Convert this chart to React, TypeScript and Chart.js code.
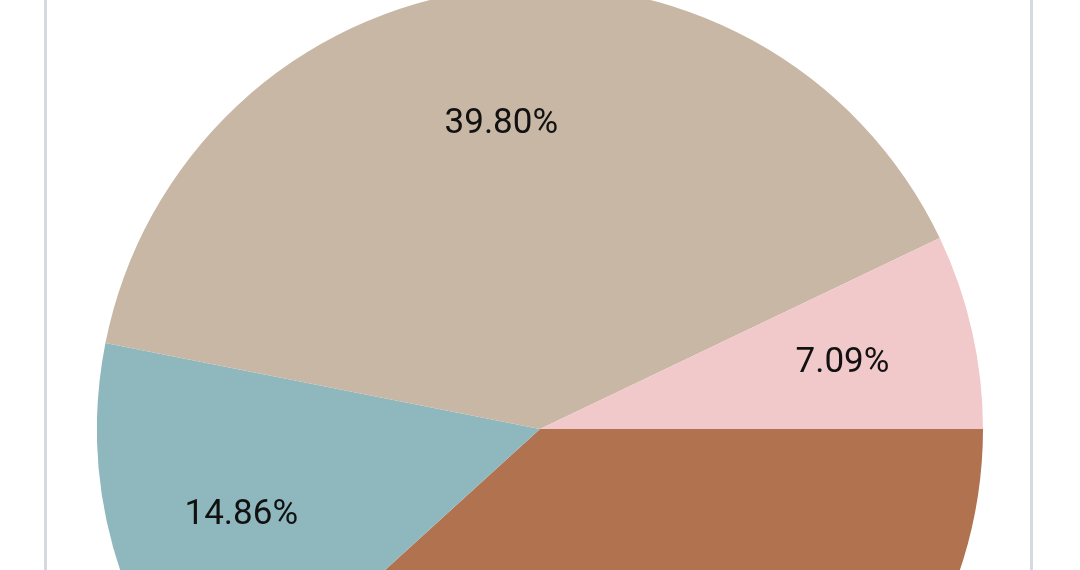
import React, { useEffect, useRef } from "react";
import { Chart, registerables } from "chart.js";

Chart.register(...registerables);

const categories = ["Category A", "Category B", "Category C", "Category D"];
const values = [38.25, 14.86, 39.8, 7.09];
const colors = ["#b1724f", "#8eb8be", "#c8b7a4", "#f2c9cb"];

const labelPlugin = {
  id: "pctLabels",
  afterDatasetsDraw(chart: any) {
    const ctx = chart.ctx;
    const meta = chart.getDatasetMeta(0);
    const data = chart.data.datasets[0].data as number[];
    const total = data.reduce((a, b) => a + b, 0);
    ctx.save();
    ctx.font = "35px Roboto";
    ctx.fillStyle = "#111111";
    ctx.textAlign = "center";
    ctx.textBaseline = "middle";
    meta.data.forEach((arc: any, i: number) => {
      const { startAngle, endAngle, outerRadius, x, y } = arc.getProps(
        ["startAngle", "endAngle", "outerRadius", "x", "y"],
        true
      );
      const mid = (startAngle + endAngle) / 2;
      const r = outerRadius * 0.7;
      const text = ((data[i] / total) * 100).toFixed(2) + "%";
      ctx.fillText(text, x + Math.cos(mid) * r, y + Math.sin(mid) * r + 3);
    });
    ctx.restore();
  },
};

export default function App() {
  const ref = useRef<HTMLCanvasElement>(null);
  useEffect(() => {
    document.body.style.margin = "0";
    const chart = new Chart(ref.current!, {
      type: "pie",
      data: {
        labels: categories,
        datasets: [
          {
            data: values,
            backgroundColor: colors,
            borderWidth: 0,
          },
        ],
      },
      options: {
        responsive: false,
        animation: false,
        rotation: 90,
        layout: { padding: 0 },
        plugins: {
          legend: { display: false },
          tooltip: { enabled: false },
        },
      },
      plugins: [labelPlugin],
    });
    return () => chart.destroy();
  }, []);
  return (
    <div
      style={{
        position: "absolute",
        left: 0,
        top: 0,
        width: 1080,
        height: 570,
        overflow: "hidden",
        background: "#ffffff",
      }}
    >
      <div
        style={{
          position: "absolute",
          left: 44,
          top: 0,
          width: 983,
          height: 570,
          borderLeft: "3px solid #d6dae0",
          borderRight: "3px solid #d6dae0",
        }}
      />
      <canvas
        ref={ref}
        width={886}
        height={886}
        style={{ position: "absolute", left: 97, top: -14, width: 886, height: 886 }}
      />
    </div>
  );
}
